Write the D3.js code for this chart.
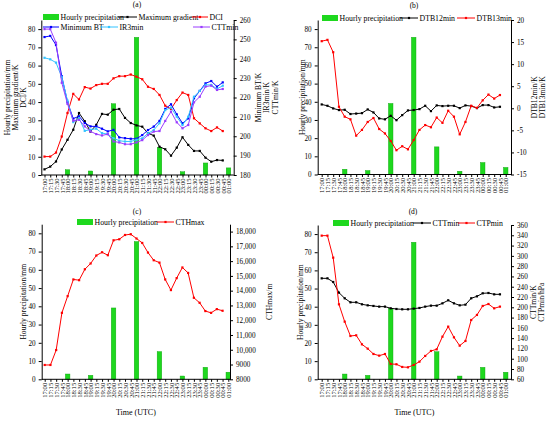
<!DOCTYPE html>
<html>
<head>
<meta charset="utf-8">
<script src="https://cdn.jsdelivr.net/npm/d3@7"></script>
<style>
body { margin: 0; background: #fff; }
svg { font-family: "Liberation Serif", "Times New Roman", serif; }
</style>
</head>
<body>
<div id="c1"></div>
<script>
// Time axis (15 min steps) and hourly rain
var times = ["17:00","17:15","17:30","17:45","18:00","18:15","18:30","18:45",
  "19:00","19:15","19:30","19:45","20:00","20:15","20:30","20:45",
  "21:00","21:15","21:30","21:45","22:00","22:15","22:30","22:45",
  "23:00","23:15","23:30","23:45","00:00","00:15","00:30","00:45","01:00"];
var precipTimes = ["18:00","19:00","20:00","21:00","22:00","23:00","00:00","01:00"];
var precip = [2.9, 2.2, 39.1, 75.5, 15.2, 1.8, 6.6, 3.9];

// (a)
var maxGradient = [3.1,4.6,7.4,14,19.3,24.8,34,29.5,23.8,27.5,33.5,33.1,35.8,36.2,31.3,28.5,
  27.2,26.5,22.9,21.6,15.5,14.1,10.6,15,20.7,16.5,13.2,13.2,9.5,7.3,8.2,8];
var dci = [10.1,10.1,12.3,21.1,34,44.5,41.4,48.2,47.4,49.3,50,50,53,54.2,54.2,55.1,
  53.9,52.5,48.4,47.2,43.9,38,36.2,41.1,45.2,43.9,31.1,28.3,25.6,24.1,26.1,24.1];
var minBT = [251.2,251.8,247.1,231,217.6,209.1,210.3,206.8,205.1,205.1,203.9,202.5,203.3,199.4,199,198.7,
  198.7,200.6,203.2,205,207.9,214.1,216.5,211.3,206.7,209.2,219.6,223.4,227.3,228.5,225.6,227.8];
var ir3min = [240.5,239.7,238,230.5,218.4,207.3,209.4,202.8,203.4,203.9,201.6,201.1,199,197.7,197.3,197.3,
  198.2,198.9,201.5,203.2,206.7,213.5,214.8,210.1,205.8,210.1,220.4,223.4,226.5,226.5,224.4,226.1];
var cttminA = [255.3,255.3,248.3,227.6,216.7,208,208.5,205.1,202.5,201.1,200.4,201.1,197.3,196.8,195.9,195.9,
  196.8,198,200.6,202.4,202.7,207.9,212.7,207.2,204.1,205.8,217.5,220.4,225.6,226.1,223.9,224.4];

// (b)
var dtb12 = [0.87,0.57,-0.03,-0.4,-0.34,-1.3,-1.2,-1.1,-0.26,-0.94,-2.3,-2.5,-1.7,-2.7,-1.55,-0.49,
  -0.4,-0.19,0.57,-0.64,0.65,0.5,0.57,0.57,0.04,0.65,0.5,0.04,0.72,0.72,0.19,0.34];
var dtb13 = [15.2,15.5,12.7,0.34,-1.9,-2.5,-6.2,-4.9,-3.1,-2.2,-4.7,-5.7,-7.4,-9.5,-8.6,-9.3,
  -7.2,-4.9,-3.8,-4.3,-2.1,-3.3,-0.56,-1.9,-5.9,-3.1,0.57,0.1,1.8,3.1,2.2,3];

// (c)
var cthmax = [8970,8970,9980,12500,13630,14760,14710,15450,15840,16380,16600,16400,17410,17480,17770,17820,
  17530,17230,16580,16060,15900,14760,14040,14850,15570,15200,13520,13180,12620,12500,12750,12640];

// (d)
var cttminD = [256.3,256.3,249.2,228.5,217.5,209.7,209.7,205.8,203.8,202.6,201.3,201.3,198,196.7,196.1,196.1,
  197.4,198.7,201.3,203.2,203.2,207.7,213.6,207.7,203.8,205.1,217.5,221.3,227.2,227.8,225.2,225.2];
var ctpmin = [339.3,339.3,296.5,205.8,172.1,144.2,145.5,128,119.6,109.2,106,109.2,89.8,89.2,84,83.3,
  87.9,94.3,105.4,115.1,118.3,142.9,162.4,141.6,125.4,134.5,175.3,185.1,202.6,206.4,198,201.3];

var green = "#1ed81e";

var svg = d3.select("#c1").append("svg")
  .attr("width", 550)
  .attr("height", 422);

var panels = [
  {
    title: "(a)", tx: 137, ty: 7,
    xFirst: 44.5, xLast: 228.5, axL: 41.3, axR: 233.7, yB: 175, yT: 20,
    rDomain: [180, 260], rTicks: d3.range(180, 261, 10),
    series: [
      {values: maxGradient, color: "#000000", axis: "L"},
      {values: dci, color: "#ff0000", axis: "L"},
      {values: minBT, color: "#0000ff", axis: "R"},
      {values: ir3min, color: "#33c3ff", axis: "R"},
      {values: cttminA, color: "#9a3dff", axis: "R"}
    ],
    legend: [
      {type: "bar", x: 43, y: 17, label: "Hourly precipitation"},
      {type: "line", x: 118, y: 17, w: 19, color: "#000000", label: "Maximum gradient"},
      {type: "line", x: 192, y: 17, w: 16, color: "#ff0000", label: "DCI"},
      {type: "line", x: 43, y: 27, w: 16, color: "#0000ff", label: "Minimum BT"},
      {type: "line", x: 100, y: 27, w: 18, color: "#33c3ff", label: "IR3min"},
      {type: "line", x: 193, y: 27, w: 17, color: "#9a3dff", label: "CTTmin"}
    ],
    lTitles: [{x: 7, t: "Hourly precipitation/mm"}, {x: 15, t: "Maximum gradient/K"}, {x: 23, t: "DCI/K"}],
    rTitles: [{x: 258, t: "Minimum BT/K"}, {x: 266.5, t: "IR3min/K"}, {x: 275, t: "CTTmin/K"}]
  },
  {
    title: "(b)", tx: 414, ty: 8,
    xFirst: 321.7, xLast: 505.7, axL: 317.7, axR: 511, yB: 174.5, yT: 20,
    rDomain: [-15, 20], rTicks: d3.range(-15, 21, 5),
    series: [
      {values: dtb12, color: "#000000", axis: "R"},
      {values: dtb13, color: "#ff0000", axis: "R"}
    ],
    legend: [
      {type: "bar", x: 322, y: 18, label: "Hourly precipitation"},
      {type: "line", x: 400, y: 18, w: 18, color: "#000000", label: "DTB12min"},
      {type: "line", x: 457, y: 18, w: 18, color: "#ff0000", label: "DTB13min"}
    ],
    lTitles: [{x: 302, t: "Hourly precipitation/mm"}],
    rTitles: [{x: 534, t: "DTB12min/K"}, {x: 542, t: "DTB13min/K"}]
  },
  {
    title: "(c)", tx: 137, ty: 213.5, xTitle: true,
    xFirst: 44.7, xLast: 228.3, axL: 41.7, axR: 230, yB: 379.3, yT: 224.2,
    rDomain: [8000, 18500], rTicks: d3.range(8000, 18001, 1000),
    rFormat: function (d) { return d >= 10000 ? d3.format(",")(d) : d; },
    series: [
      {values: cthmax, color: "#ff0000", axis: "R"}
    ],
    legend: [
      {type: "bar", x: 77, y: 222, label: "Hourly precipitation"},
      {type: "line", x: 157, y: 222, w: 17, color: "#ff0000", label: "CTHmax"}
    ],
    lTitles: [{x: 23, t: "Hourly precipitation/mm"}],
    rTitles: [{x: 269, t: "CTHmax/m"}]
  },
  {
    title: "(d)", tx: 413, ty: 213.5, xTitle: true,
    xFirst: 321.7, xLast: 505.7, axL: 317.7, axR: 511, yB: 379.3, yT: 225,
    rDomain: [60, 360], rTicks: d3.range(60, 361, 20),
    series: [
      {values: cttminD, color: "#000000", axis: "R"},
      {values: ctpmin, color: "#ff0000", axis: "R"}
    ],
    legend: [
      {type: "bar", x: 333, y: 223, label: "Hourly precipitation"},
      {type: "line", x: 413, y: 223, w: 18, color: "#000000", label: "CTTmin"},
      {type: "line", x: 458, y: 223, w: 17, color: "#ff0000", label: "CTPmin"}
    ],
    lTitles: [{x: 300, t: "Hourly precipitation/mm"}],
    rTitles: [{x: 533, t: "CTTmin/K"}, {x: 541, t: "CTPmin/hPa"}]
  }
];

function drawPanel(p) {
  var g = svg.append("g");
  var x = d3.scalePoint().domain(times).range([p.xFirst, p.xLast]);
  var yL = d3.scaleLinear().domain([0, 85]).range([p.yB, p.yT]);
  var yR = d3.scaleLinear().domain(p.rDomain).range([p.yB, p.yT]);

  // Bars
  g.append("g").selectAll("rect")
    .data(precip)
    .join("rect")
    .attr("x", function (d, i) { return x(precipTimes[i]) - 2.3; })
    .attr("width", 4.6)
    .attr("y", function (d) { return yL(d); })
    .attr("height", function (d) { return yL(0) - yL(d); })
    .attr("fill", green)
    .attr("stroke", "#0fa00f")
    .attr("stroke-width", 0.4);

  // Lines with small square markers
  p.series.forEach(function (s) {
    var sc = s.axis == "L" ? yL : yR;
    var line = d3.line()
      .x(function (d, i) { return x(times[i]); })
      .y(function (d) { return sc(d); });
    g.append("path")
      .datum(s.values)
      .attr("d", line)
      .attr("fill", "none")
      .attr("stroke", s.color)
      .attr("stroke-width", 1);
    g.append("g").selectAll("rect")
      .data(s.values)
      .join("rect")
      .attr("x", function (d, i) { return x(times[i]) - 1.1; })
      .attr("y", function (d) { return sc(d) - 1.1; })
      .attr("width", 2.2)
      .attr("height", 2.2)
      .attr("fill", s.color);
  });

  // Bottom axis
  var xa = g.append("g")
    .attr("transform", "translate(0," + p.yB + ")")
    .call(d3.axisBottom(x).tickSize(2.5).tickSizeOuter(0));
  xa.select(".domain").remove();
  xa.selectAll("text")
    .attr("font-size", 6.6)
    .attr("font-family", "Liberation Serif")
    .attr("text-anchor", "end")
    .attr("transform", "rotate(-90)")
    .attr("x", -3.5)
    .attr("y", 0)
    .attr("dy", "0.34em");
  g.append("line")
    .attr("x1", p.axL).attr("x2", p.axR)
    .attr("y1", p.yB).attr("y2", p.yB)
    .attr("stroke", "#000").attr("stroke-width", 1);

  // Left axis
  var la = g.append("g")
    .attr("transform", "translate(" + p.axL + ",0)")
    .call(d3.axisLeft(yL).tickValues(d3.range(0, 81, 10)).tickSize(3).tickSizeOuter(0));
  la.selectAll("text").attr("font-size", 7.2).attr("font-family", "Liberation Serif");

  // Right axis
  var ra = g.append("g")
    .attr("transform", "translate(" + p.axR + ",0)")
    .call(d3.axisRight(yR).tickValues(p.rTicks).tickSize(3).tickSizeOuter(0)
      .tickFormat(p.rFormat || function (d) { return d; }));
  ra.selectAll("text").attr("font-size", 7.2).attr("font-family", "Liberation Serif");

  g.selectAll(".domain").attr("stroke-width", 1);

  // Title
  g.append("text")
    .attr("x", p.tx).attr("y", p.ty)
    .attr("text-anchor", "middle")
    .attr("font-size", 7.5)
    .text(p.title);

  // Axis titles
  var midY = (p.yB + p.yT) / 2;
  p.lTitles.concat(p.rTitles).forEach(function (t) {
    g.append("text")
      .attr("transform", "translate(" + t.x + "," + midY + ") rotate(-90)")
      .attr("text-anchor", "middle")
      .attr("dy", "0.35em")
      .attr("font-size", 7.6)
      .text(t.t);
  });

  if (p.xTitle) {
    g.append("text")
      .attr("x", (p.axL + p.axR) / 2)
      .attr("y", 415)
      .attr("text-anchor", "middle")
      .attr("font-size", 8)
      .text("Time (UTC)");
  }

  // Legend
  p.legend.forEach(function (l) {
    var tx;
    if (l.type == "bar") {
      g.append("rect")
        .attr("x", l.x).attr("y", l.y - 3)
        .attr("width", 16).attr("height", 6)
        .attr("fill", green);
      tx = l.x + 17.5;
    } else {
      g.append("line")
        .attr("x1", l.x).attr("x2", l.x + l.w)
        .attr("y1", l.y).attr("y2", l.y)
        .attr("stroke", l.color).attr("stroke-width", 1);
      g.append("rect")
        .attr("x", l.x + l.w / 2 - 1.1).attr("y", l.y - 1.1)
        .attr("width", 2.2).attr("height", 2.2)
        .attr("fill", l.color);
      tx = l.x + l.w + 1.5;
    }
    g.append("text")
      .attr("x", tx).attr("y", l.y)
      .attr("dy", "0.33em")
      .attr("font-size", 7.8)
      .text(l.label);
  });
}

panels.forEach(drawPanel);
</script>
</body>
</html>
